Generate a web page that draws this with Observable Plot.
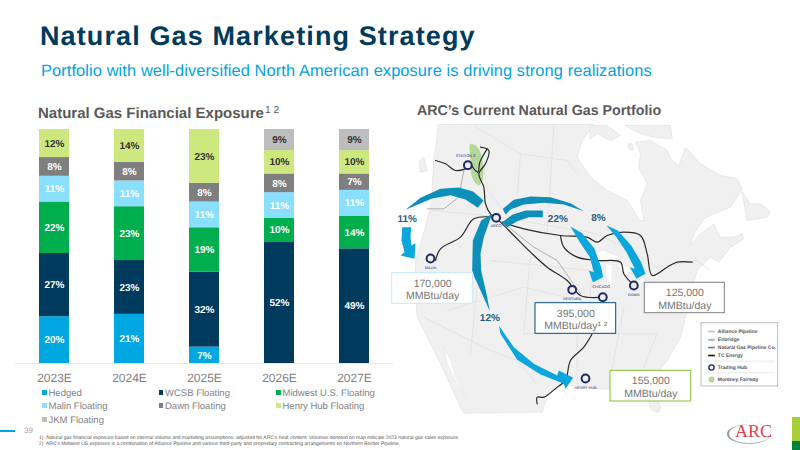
<!DOCTYPE html>
<html><head><meta charset="utf-8">
<script src="https://cdn.jsdelivr.net/npm/d3@7"></script>
<script src="https://cdn.jsdelivr.net/npm/@observablehq/plot@0.6"></script>
<style>
html,body{margin:0;padding:0;background:#fff;width:800px;height:450px;overflow:hidden;font-family:"Liberation Sans",Arial,sans-serif;text-rendering:geometricPrecision}
.t{position:absolute;white-space:nowrap}
.chart{position:absolute}
sup{font-size:.68em;font-weight:400;vertical-align:baseline;position:relative;top:-.5em;margin-left:1px}
.lg{position:absolute;font-size:9.5px;color:#7f7f7f;white-space:nowrap}
.lg i{display:inline-block;width:4.5px;height:4.5px;margin-right:2px;vertical-align:1px}
</style></head><body>
<div class="t" style="left:40px;top:21px;font-size:27px;font-weight:700;color:#003a5d;letter-spacing:1.12px">Natural Gas Marketing Strategy</div>
<div class="t" style="left:41px;top:62px;font-size:16.4px;color:#00a4e0;letter-spacing:.1px">Portfolio with well-diversified North American exposure is driving strong realizations</div>
<div class="t" style="left:38px;top:105px;font-size:15px;font-weight:700;color:#595959">Natural Gas Financial Exposure<sup>1 2</sup></div>
<div class="t" style="left:417px;top:103px;font-size:14.25px;font-weight:700;color:#595959">ARC’s Current Natural Gas Portfolio</div>
<div id="bars" class="chart" style="left:0;top:120px"></div>
<div id="map" class="chart" style="left:390px;top:120px"></div>
<div id="legend"></div>
<div class="t" style="left:0;top:430px;width:15px;height:2px;background:#00a4e0"></div>
<div class="t" style="left:24px;top:426px;font-size:8px;color:#a6a6a6">39</div>
<div class="t" style="left:39px;top:434.5px;font-size:5px;color:#595959">1)&nbsp; Natural gas financial exposure based on internal volume and marketing assumptions, adjusted for ARC’s heat content. Volumes denoted on map indicate 2023 natural gas sales exposure.</div>
<div class="t" style="left:39px;top:440.5px;font-size:5px;color:#595959">2)&nbsp; ARC’s Midwest US exposure is a combination of Alliance Pipeline and various third-party and proprietary contracting arrangements on Northern Border Pipeline.</div>
<div class="t" style="left:727px;top:424px;width:44px;height:20px;border-radius:50%;border-left:2px solid #8a9aa5;border-bottom:1.5px solid #a9b4bb;box-sizing:border-box"></div>
<div class="t" style="left:735px;top:421px;font-size:18px;font-family:'Liberation Serif',serif;color:#e2404e">ARC</div>
<div class="t" style="left:792px;top:417px;width:8px;height:24px;background:#a6ce39"></div>
<div class="t" style="left:792px;top:441px;width:8px;height:9px;background:#00843d"></div>
<script>
const years=["2023E","2024E","2025E","2026E","2027E"];
const seriesNames=["Hedged","WCSB Floating","Midwest U.S. Floating","Malin Floating","Dawn Floating","Henry Hub Floating","JKM Floating"];
const seriesColors=["#00a7e1","#003a5d","#00ae4d","#8adfff","#7f7f7f","#cde87f","#bdbdbd"];
const labelColors=["#fff","#fff","#fff","#fff","#fff","#333","#333"];
const hedged=[20,21,7,0,0];
const wcsb=[27,23,32,52,49];
const midwest=[22,23,19,10,14];
const malin=[11,11,11,11,11];
const dawn=[8,8,8,8,7];
const henryHub=[12,14,23,10,10];
const jkm=[0,0,0,9,9];
const allSeries=[hedged,wcsb,midwest,malin,dawn,henryHub,jkm];
const rows=allSeries.flatMap((vals,s)=>vals.map((v,i)=>({year:years[i],series:seriesNames[s],v,lc:labelColors[s]}))).filter(d=>d.v>0);

const barsPlot=Plot.plot({
  width:395,height:270,marginLeft:15.25,marginRight:2.25,marginTop:9,marginBottom:27,
  x:{type:"band",domain:years,paddingInner:.6,paddingOuter:.3,label:null,tickSize:0,tickPadding:10},
  y:{domain:[0,100],axis:null},
  color:{domain:seriesNames,range:seriesColors},
  style:{fontFamily:"Liberation Sans, Arial, sans-serif",background:"transparent"},
  marks:[
    Plot.barY(rows,{x:"year",y:"v",fill:"series",order:seriesNames}),
    Plot.text(rows,Plot.stackY({x:"year",y:"v",order:seriesNames,text:d=>d.v+"%",fill:"lc",fontSize:10,fontWeight:700})),
    Plot.ruleY([0],{stroke:"#e6e6e6"})
  ]
});
barsPlot.querySelectorAll('[aria-label="x-axis tick label"] text, [aria-label="x-axis tick label"]').forEach(e=>{e.style.fontSize="12px";e.style.fill="#7f7f7f"});
document.getElementById("bars").append(barsPlot);

/* legend */
const legendCols=[42,158.5,276];const legendRows=[393.5,406.5,420.5];
const lg=document.getElementById("legend");
seriesNames.forEach((n,i)=>{
  const d=document.createElement("div");d.className="lg";
  d.style.left=legendCols[i%3]+"px";d.style.top=(legendRows[Math.floor(i/3)]-6)+"px";
  d.innerHTML=`<i style="background:${seriesColors[i]}"></i>${n}`;lg.append(d);
});

/* map, all in picture units */
const land=[[145,12],[610,12],[575,60],[560,110],[600,170],[650,210],[710,240],[730,270],[745,300],[760,300],[750,240],[770,190],[745,140],[750,100],[735,65],[780,60],[830,90],[845,120],[865,135],[885,80],[930,130],[990,165],[1040,175],[1055,205],[1020,260],[970,280],[940,295],[910,340],[900,375],[930,340],[970,310],[980,330],[990,350],[1030,350],[1055,340],[1060,355],[1020,380],[985,425],[960,410],[940,430],[920,450],[900,520],[880,610],[870,650],[830,720],[790,770],[780,800],[810,860],[805,875],[785,870],[765,820],[730,805],[630,805],[550,795],[500,790],[470,830],[455,875],[220,878],[205,850],[160,750],[105,640],[80,590],[75,520],[75,420],[90,370],[110,300],[125,240],[125,200],[130,120]];
const islands=[[[600,15],[650,15],[690,45],[660,60],[620,40],[600,55]],[[705,15],[840,15],[845,55],[790,50],[740,35]],[[1055,215],[1070,300],[1130,290],[1140,275],[1110,250],[1080,250]],[[100,110],[110,150],[90,155],[85,125]],[[715,70],[725,70],[728,88],[716,85]]];
const lakes=[[[590,400],[640,390],[690,410],[650,420],[600,425]],[[645,430],[665,432],[665,490],[650,495]],[[680,430],[720,440],[710,470],[690,450]],[[715,500],[760,470],[765,480],[725,510]],[[775,470],[800,460],[805,472],[780,480]],[[160,680],[180,720],[195,770],[225,825],[200,790],[170,730]]];
const borders=[[[250,15],[390,100],[530,120],[560,160]],[[270,70],[290,210],[380,320]],[[390,100],[375,305]],[[490,15],[470,335]],[[130,270],[330,290],[620,340],[700,380],[800,440]],[[800,440],[920,420],[960,450]],[[170,570],[400,500],[650,560]],[[100,590],[300,690],[380,720],[440,790]],[[260,500],[240,700]],[[420,400],[400,640]],[[610,400],[590,620]],[[400,640],[800,640]],[[300,420],[600,450]],[[700,560],[660,770]],[[800,640],[740,790]],[[560,640],[560,790]]];
const montney=[[240,70],[265,85],[278,170],[265,195],[245,170],[240,120]];
const arrowsDark=[
 [[45,268],[90,232],[150,205],[205,201],[248,213],[279,240],[262,262],[225,237],[180,224],[125,234]],
 [[245,450],[247,360],[272,300],[305,280],[280,350],[270,400],[272,450],[288,520],[298,572],[270,510],[252,470]],
 [[335,305],[365,283],[405,270],[457,270],[457,290],[415,290],[380,302],[350,320]],
 [[337,265],[370,238],[420,228],[480,230],[540,248],[580,272],[520,252],[460,247],[400,252],[360,267],[345,282]]
];
const arrowsBright=[
 [[35,320],[62,320],[60,350],[63,375],[75,368],[72,415],[30,405],[42,395],[33,360]],
 [[325,615],[370,680],[430,730],[500,765],[505,750],[548,772],[525,805],[520,790],[450,762],[380,718],[330,640]],
 [[540,318],[575,338],[612,385],[632,440],[638,470],[607,485],[595,450],[610,455],[598,410],[568,365]],
 [[648,315],[682,330],[722,375],[752,425],[765,460],[738,475],[718,440],[733,445],[708,395],[678,350]]
];
const pipesBlack=[
 [[135,120],[165,130],[195,150],[225,145]],
 [[270,80],[295,90],[285,130],[265,160],[280,200],[285,250],[300,280],[330,305],[370,345],[420,395],[470,440],[530,480],[570,525],[640,530]],
 [[290,85],[268,125],[262,155],[240,130]],
 [[335,305],[400,325],[510,345],[590,350],[620,365],[650,345],[700,335],[750,345],[770,400],[785,465],[830,440],[860,425],[905,425]],
 [[510,345],[520,380],[560,410],[620,420],[690,425],[700,460],[730,495]],
 [[310,290],[250,295],[210,350],[150,385],[135,420]],
 [[605,640],[580,680],[540,720],[525,780],[500,800],[460,830],[440,830],[440,850]]
];
const pipesGrey=[[[220,150],[205,230],[160,265],[110,265]],[[335,305],[430,380],[500,420],[570,520]]];
const hubs=[[232,134,"STATION 2"],[317,292,"AECO"],[120,414,"MALIN"],[545,508,"VENTURA"],[637,530,"CHICAGO"],[730,495,"DAWN"],[585,774,"HENRY HUB"]];
const hubLabelOffset=[[-7,-28],[0,24],[0,27],[0,28],[-5,-30],[0,27],[0,28]];
const callouts=[[5,458,248,550,"#c9ebf9","170,000","MMBtu/day"],[435,548,677,640,"#1f5c80","395,000","MMBtu/day\u00b9 \u00b2"],[763,487,1003,578,"#8a8a8a","125,000","MMBtu/day"],[660,751,902,843,"#8dc63f","155,000","MMBtu/day"]];
const pcts=[[50,295,"11%"],[502,296,"22%"],[624,293,"8%"],[298,593,"12%"]];
const keyBox=[[933,608,1163,798]];
const keySeparators=[[722],[757]];
const keyItems=[[982,633,"Alliance Pipeline","#c4c4c4"],[982,658,"Enbridge","#a5a5a5"],[982,681,"Natural Gas Pipeline Co.","#777"],[982,705,"TC Energy","#111"],[982,741,"Trading Hub",null],[982,777,"Montney Fairway",null]];

const closed=(list,opt)=>list.map(p=>Plot.line(p,{x:d=>d[0],y:d=>d[1],curve:"linear-closed",...opt}));
const mapPlot=Plot.plot({
  width:410,height:300,margin:0,
  x:{domain:[0,1230],axis:null},y:{domain:[0,900],axis:null,range:[0,300]},
  style:{fontFamily:"Liberation Sans, Arial, sans-serif",background:"transparent"},
  marks:[
    ...closed([land,...islands],{fill:"#f0f0f0",stroke:"#e3e3e3",strokeWidth:.8}),
    ...closed(lakes,{fill:"#fff",stroke:"#e3e3e3",strokeWidth:.5}),
    ...borders.map(p=>Plot.line(p,{x:d=>d[0],y:d=>d[1],stroke:"#dcdcdc",strokeWidth:.6})),
    Plot.line(montney,{x:d=>d[0],y:d=>d[1],curve:"catmull-rom-closed",fill:"#b5d89a",stroke:"none"}),
    ...pipesGrey.map(p=>Plot.line(p,{x:d=>d[0],y:d=>d[1],stroke:"#a8a8a8",strokeWidth:.9})),
    ...pipesBlack.map(p=>Plot.line(p,{x:d=>d[0],y:d=>d[1],stroke:"#2a2a2a",strokeWidth:1.2,curve:"catmull-rom"})),
    Plot.dot(hubs,{x:d=>d[0],y:d=>d[1],r:3.9,stroke:"#1f2a6b",strokeWidth:2,fill:"#eee"}),
    Plot.text(hubs,{x:(d,i)=>d[0]+hubLabelOffset[i][0],y:(d,i)=>d[1]+hubLabelOffset[i][1],text:d=>d[2],fontSize:3.8,fill:"#1f2a6b"}),
    ...closed(arrowsDark,{fill:"#0d8fba",stroke:"none"}),
    ...closed(arrowsBright,{fill:"#0aa6dc",stroke:"none"}),
    Plot.text(pcts,{x:d=>d[0],y:d=>d[1],text:d=>d[2],fontSize:10,fontWeight:700,fill:"#1f5c80"}),
    Plot.rect(callouts,{x1:d=>d[0],y1:d=>d[1],x2:d=>d[2],y2:d=>d[3],fill:"#fff",stroke:d=>d[4],strokeWidth:1.1}),
    Plot.text(callouts,{x:d=>(d[0]+d[2])/2,y:d=>d[1]+30,text:d=>d[5],fontSize:10.5,fill:"#757575"}),
    Plot.text(callouts,{x:d=>(d[0]+d[2])/2,y:d=>d[1]+68,text:d=>d[6],fontSize:10.5,fill:"#757575"}),
    Plot.rect(keyBox,{x1:d=>d[0],y1:d=>d[1],x2:d=>d[2],y2:d=>d[3],fill:"#fff",stroke:"#b5b5b5",strokeWidth:.9}),
    Plot.link(keySeparators,{x1:945,x2:1153,y1:d=>d[0],y2:d=>d[0],stroke:"#dedede",strokeWidth:.6}),
    Plot.text(keyItems,{x:d=>d[0],y:d=>d[1],text:d=>d[2],fontSize:5,fontWeight:700,fill:"#555",textAnchor:"start"}),
    Plot.link(keyItems.filter(d=>d[3]),{x1:953,x2:973,y1:d=>d[1],y2:d=>d[1],stroke:d=>d[3],strokeWidth:1.6}),
    Plot.dot(keyItems.slice(4,5),{x:963,y:d=>d[1],r:2.6,stroke:"#1f2a6b",strokeWidth:1.4,fill:"#fff"}),
    Plot.dot(keyItems.slice(5,6),{x:963,y:d=>d[1],r:3,fill:"#b5d89a"})
  ]
});
document.getElementById("map").append(mapPlot);
</script>
</body></html>
